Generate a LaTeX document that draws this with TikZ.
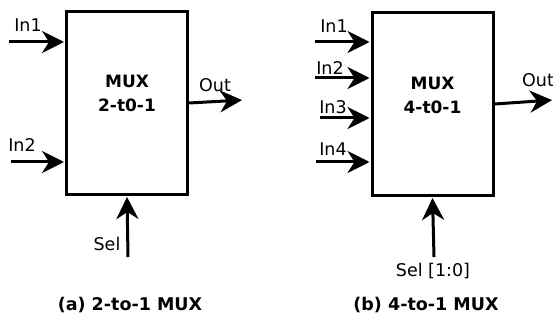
\documentclass[tikz,border=0pt]{standalone}
\usepackage{fontspec}
\setmainfont{DejaVu Sans}
\usetikzlibrary{arrows.meta,positioning,calc}

\begin{document}
\begin{tikzpicture}[x=1pt,y=-1pt,font=\fontsize{17.5}{21}\selectfont,
    muxbox/.style={draw,line width=3pt,minimum width=121pt,minimum height=183pt,
                   inner sep=0pt},
    muxtext/.style={font=\fontsize{17}{24}\selectfont\bfseries,align=center},
    sig/.style={line width=3pt,-{Stealth[length=22pt,width=22pt,inset=7pt]},
                shorten >=1pt},
    lbl/.style={inner sep=0pt},
    caption/.style={font=\fontsize{17.5}{21}\selectfont\bfseries}]
  \useasboundingbox (0,0) rectangle (553,320);

  % (a) 2-to-1
  \node[muxbox] (mux2) at (127,103) {};
  \node[muxtext] (t2) at (127,93) {MUX\\2-t0-1};
  \coordinate (a1) at (9,42);
  \coordinate (a2) at (11,162);
  \coordinate (aout) at (243,100);
  \coordinate (asel) at (128,257);
  \draw[sig] (a1) -- (a1 -| mux2.west);
  \draw[sig] (a2) -- (a2 -| mux2.west);
  \draw[sig] (mux2.east) -- (aout);
  \draw[sig] (asel) -- (mux2.south);
  \node[lbl] (la1) at (28,25) {In1};
  \node[lbl] (la2) at (22,145) {In2};
  \node[lbl] (laout) at (215,85) {Out};
  \node[lbl] (lasel) at (107,244) {Sel};
  \node[caption] (capa) at (130,305) {(a) 2-to-1 MUX};

  % (b) 4-to-1
  \node[muxbox] (mux4) at (432.5,104) {};
  \node[muxtext] (t4) at (432.5,95) {MUX\\4-t0-1};
  \coordinate (b1) at (315,42);
  \coordinate (b2) at (315,78);
  \coordinate (b3) at (320,118);
  \coordinate (b4) at (316,162);
  \coordinate (bout) at (553,100);
  \coordinate (bsel) at (434,257);
  \foreach \i in {1,...,4}
    \draw[sig] (b\i) -- (b\i -| mux4.west);
  \draw[sig] (mux4.east) -- (bout);
  \draw[sig] (bsel) -- (mux4.south);
  \node[lbl] (lb1) at (334,26) {In1};
  \node[lbl] (lb2) at (330,68) {In2};
  \node[lbl] (lb3) at (333,107) {In3};
  \node[lbl] (lb4) at (333,149) {In4};
  \node[lbl] (lbout) at (538,80) {Out};
  \node[lbl] (lbsel) at (433,271) {Sel [1:0]};
  \node[caption] (capb) at (426,305) {(b) 4-to-1 MUX};
\end{tikzpicture}
\end{document}
